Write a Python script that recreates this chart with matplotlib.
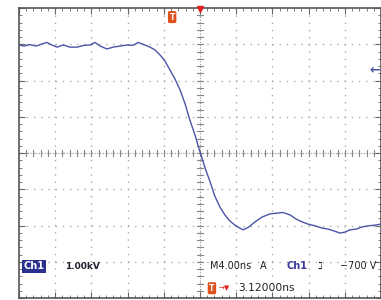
import numpy as np
import matplotlib
matplotlib.use('Agg')
import matplotlib.pyplot as plt

# trace, in divisions (x: time div, y: volts div)
t_div = [0.00, 0.14, 0.30, 0.47, 0.64, 0.77, 0.91, 1.05, 1.22, 1.41, 1.60, 1.80,
         1.96, 2.10, 2.24, 2.43, 2.60, 2.79, 2.98, 3.15, 3.29, 3.45, 3.62, 3.76,
         3.90, 4.03, 4.17, 4.31, 4.45, 4.59, 4.72, 4.86, 5.00, 5.14, 5.28, 5.41,
         5.55, 5.69, 5.83, 5.99, 6.19, 6.35, 6.52, 6.71, 6.93, 7.13, 7.29, 7.49,
         7.65, 7.82, 7.98, 8.18, 8.37, 8.54, 8.70, 8.87, 9.01, 9.14, 9.31, 9.48,
         9.64, 9.83, 10.0]
v_div = [2.98, 2.95, 2.99, 2.95, 3.01, 3.05, 2.98, 2.92, 2.98, 2.92, 2.92, 2.97,
         2.98, 3.05, 2.95, 2.87, 2.92, 2.95, 2.98, 2.97, 3.05, 2.99, 2.92, 2.84,
         2.70, 2.54, 2.29, 2.04, 1.74, 1.35, 0.91, 0.50, 0.03, -0.41, -0.80, -1.19,
         -1.49, -1.71, -1.88, -2.01, -2.12, -2.04, -1.90, -1.77, -1.68, -1.66, -1.64, -1.71,
         -1.82, -1.90, -1.96, -2.01, -2.07, -2.10, -2.15, -2.21, -2.18, -2.12, -2.10, -2.04,
         -2.01, -1.99, -1.96]

ch_label = 'Ch1'
volts_label = '1.00kV'
time_label = 'M4.00ns'
trig_src = 'Ch1'
trig_level = '\u2212700 V'
trig_pos = '3.12000ns'

trace_col = '#4b55a5'
grid_col = '#aaaaaa'

fig = plt.figure(figsize=(3.81, 3.00), dpi=100)
ax = fig.add_axes([19/381, 2/300, 362/381, 290/300])
ax.set_xlim(0, 10)
ax.set_ylim(-4, 4)

# dotted graticule
for gx in range(1, 10):
    ax.axvline(gx, color=grid_col, lw=1, ls=(0, (1, 4.2)), zorder=1)
for gy in range(-3, 4):
    ax.axhline(gy, color=grid_col, lw=1, ls=(0, (1, 4.2)), zorder=1)

# centre axes with minor ticks
ax.axvline(5, color='#999', lw=0.8, ls=(0, (1, 1.5)), zorder=1)
ax.axhline(0, color='#999', lw=0.8, ls=(0, (1, 1.5)), zorder=1)
for m in np.arange(0.2, 10, 0.2):
    ax.plot([m, m], [-0.08, 0.08], color='#888', lw=0.8, zorder=1)
for m in np.arange(-3.8, 4, 0.2):
    ax.plot([4.93, 5.07], [m, m], color='#888', lw=0.8, zorder=1)

ax.set_xticks(range(0, 11))
ax.set_yticks(range(-4, 5))
ax.set_xticks(np.arange(0, 10.01, 0.2), minor=True)
ax.set_yticks(np.arange(-4, 4.01, 0.2), minor=True)
ax.tick_params(which='both', direction='in', top=True, right=True,
               labelbottom=False, labelleft=False, color='#666')
ax.tick_params(which='major', length=4)
ax.tick_params(which='minor', length=2.5)
for s in ax.spines.values():
    s.set_color('#555')
    s.set_linewidth(1.2)

ax.plot(t_div, v_div, color=trace_col, lw=1.0, zorder=3)

# markers on the screen
ax.text(4.23, 3.75, 'T', color='white', fontsize=5.5, fontweight='bold',
        ha='center', va='center',
        bbox=dict(boxstyle='round,pad=0.2', fc='#e0521c', ec='none'), zorder=4)
ax.plot([5], [3.96], marker='v', color='#e02020', ms=5, zorder=4, clip_on=False)
ax.text(9.98, 2.29, '\u2190', color=trace_col, fontsize=9, fontweight='bold',
        ha='right', va='center', zorder=4)

# readouts
ax.text(0.12, -3.12, ch_label, color='white', fontsize=7, fontweight='bold',
        ha='left', va='center',
        bbox=dict(boxstyle='square,pad=0.15', fc='#2c3190', ec='none'), zorder=4)
ax.text(1.27, -3.12, volts_label, color='#223', fontsize=6.5, fontweight='bold',
        ha='left', va='center', zorder=4)
ax.text(5.28, -3.12, time_label, color='#222', fontsize=7, ha='left', va='center', zorder=4)
ax.text(6.65, -3.12, 'A', color='#222', fontsize=7, ha='left', va='center', zorder=4)
ax.text(7.40, -3.12, trig_src, color='#3a3a9a', fontsize=7, fontweight='bold',
        ha='left', va='center', zorder=4)
ax.text(8.25, -3.12, '\u2137', color='#222', fontsize=7, ha='left', va='center', zorder=4)
ax.text(9.87, -3.12, trig_level, color='#222', fontsize=7, ha='right', va='center', zorder=4)

ax.text(5.33, -3.73, 'T', color='white', fontsize=5.5, fontweight='bold',
        ha='center', va='center',
        bbox=dict(boxstyle='round,pad=0.2', fc='#e0521c', ec='none'), zorder=4)
ax.text(5.52, -3.73, '\u2192\u25bc', color='#e02020', fontsize=5, ha='left', va='center', zorder=4)
ax.text(6.05, -3.73, trig_pos, color='#222', fontsize=7.7, ha='left', va='center', zorder=4)

fig.savefig('out.png', dpi=100)
